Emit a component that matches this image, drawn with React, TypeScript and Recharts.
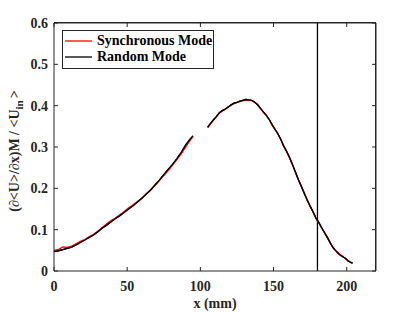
import React from 'react';
import { LineChart, Line, XAxis, YAxis, ReferenceLine, Label } from 'recharts';

const xLeft = [0, 3, 6, 9, 12, 15, 18, 21, 24, 27, 30, 33, 36, 39, 42, 45, 48, 51, 54, 57, 60, 63, 66, 69, 72, 75, 78, 81, 84, 87, 90, 93, 95];
const randLeft = [0.047, 0.049, 0.052, 0.055, 0.058, 0.063, 0.069, 0.075, 0.081, 0.087, 0.095, 0.104, 0.111, 0.119, 0.127, 0.134, 0.142, 0.15, 0.158, 0.167, 0.176, 0.186, 0.196, 0.208, 0.22, 0.233, 0.246, 0.258, 0.272, 0.287, 0.305, 0.319, 0.327];
const syncLeft = [0.05, 0.052, 0.058, 0.057, 0.06, 0.066, 0.072, 0.076, 0.083, 0.089, 0.097, 0.105, 0.114, 0.122, 0.128, 0.136, 0.144, 0.153, 0.16, 0.168, 0.176, 0.187, 0.196, 0.207, 0.219, 0.231, 0.243, 0.256, 0.27, 0.284, 0.3, 0.316, 0.325];

const xRight = [105, 107, 109, 111, 113, 115, 117, 119, 121, 123, 125, 127, 129, 131, 133, 135, 137, 139, 141, 143, 145, 147, 149, 151, 153, 155, 157, 159, 161, 163, 165, 167, 169, 171, 173, 175, 177, 179, 181, 183, 185, 187, 189, 191, 193, 195, 197, 199, 201, 203, 204];
const randRight = [0.348, 0.357, 0.366, 0.374, 0.383, 0.388, 0.392, 0.397, 0.402, 0.406, 0.408, 0.411, 0.413, 0.415, 0.414, 0.413, 0.409, 0.403, 0.394, 0.385, 0.377, 0.367, 0.354, 0.343, 0.332, 0.318, 0.302, 0.289, 0.274, 0.257, 0.239, 0.221, 0.205, 0.188, 0.172, 0.157, 0.143, 0.128, 0.117, 0.104, 0.092, 0.08, 0.066, 0.055, 0.047, 0.04, 0.035, 0.031, 0.024, 0.02, 0.019];
const syncRight = [0.346, 0.356, 0.365, 0.373, 0.382, 0.387, 0.391, 0.396, 0.401, 0.405, 0.408, 0.41, 0.412, 0.413, 0.413, 0.412, 0.408, 0.402, 0.393, 0.384, 0.376, 0.366, 0.353, 0.342, 0.331, 0.317, 0.301, 0.288, 0.273, 0.256, 0.238, 0.22, 0.204, 0.187, 0.171, 0.156, 0.142, 0.127, 0.116, 0.103, 0.091, 0.079, 0.067, 0.055, 0.048, 0.041, 0.036, 0.03, 0.025, 0.021, 0.02];

const xTicks = [0, 50, 100, 150, 200];
const yTicks = [0, 0.1, 0.2, 0.3, 0.4, 0.5, 0.6];
const xDomain: [number, number] = [0, 220];
const yDomain: [number, number] = [0, 0.6];
const markerX = 180;
const seriesInfo = [
  { key: 'sync', name: 'Synchronous Mode', color: '#ff0000' },
  { key: 'random', name: 'Random Mode', color: '#000000' },
];

type Row = { x: number; sync: number | null; random: number | null };
const data: Row[] = [
  ...xLeft.map((x, i) => ({ x, sync: syncLeft[i], random: randLeft[i] })),
  { x: 100, sync: null, random: null },
  ...xRight.map((x, i) => ({ x, sync: syncRight[i], random: randRight[i] })),
];

const FONT = 'Liberation Serif, Times New Roman, serif';
const AXIS = '#262626';
const tickStyle = { fontFamily: FONT, fontWeight: 700, fontSize: 14, fill: AXIS };

const renderYLabel = (props: any) => {
  const vb = props.viewBox || { x: 0, y: 23, width: 0, height: 248 };
  const cy = vb.y + vb.height / 2 + 4;
  const cx = 19;
  return (
    <text
      x={cx}
      y={cy}
      transform={`rotate(-90 ${cx} ${cy})`}
      textAnchor="middle"
      fontFamily={FONT}
      fontWeight={700}
      fontSize={14}
      fill={AXIS}
    >
      <tspan>(∂&lt;U&gt;/∂x)M / &lt;U</tspan>
      <tspan dy={4} fontSize={11}>in</tspan>
      <tspan dy={-4} dx={2}>&gt;</tspan>
    </text>
  );
};

export default function App() {
  return (
    <div style={{ position: 'absolute', left: 0, top: 0, width: 415, height: 312, background: '#fff' }}>
      <LineChart width={415} height={312} data={data} margin={{ top: 22, right: 38, bottom: 11, left: 14 }}>
        <XAxis
          xAxisId="b"
          dataKey="x"
          type="number"
          domain={xDomain}
          ticks={xTicks}
          height={30}
          tickSize={-4}
          tickMargin={14}
          stroke={AXIS}
          tick={tickStyle}
        >
          <Label value="x (mm)" position="bottom" offset={-3} style={{ ...tickStyle }} />
        </XAxis>
        <XAxis
          xAxisId="t"
          dataKey="x"
          type="number"
          orientation="top"
          domain={xDomain}
          ticks={xTicks}
          height={1}
          tickSize={-4}
          tickFormatter={() => ''}
          stroke={AXIS}
        />
        <YAxis
          yAxisId="l"
          type="number"
          domain={yDomain}
          ticks={yTicks}
          width={40}
          tickSize={-4}
          tickMargin={10}
          stroke={AXIS}
          tick={tickStyle}
        >
          <Label content={renderYLabel} />
        </YAxis>
        <YAxis
          yAxisId="r"
          orientation="right"
          type="number"
          domain={yDomain}
          ticks={yTicks}
          width={1}
          tickSize={-4}
          tickFormatter={() => ''}
          stroke={AXIS}
        />
        <ReferenceLine xAxisId="b" yAxisId="l" x={markerX} stroke="#000" strokeWidth={1.3} />
        <Line
          xAxisId="t"
          yAxisId="r"
          dataKey="random"
          stroke="#000000"
          strokeWidth={1.3}
          dot={false}
          isAnimationActive={false}
          legendType="none"
        />
        {seriesInfo.map((s) => (
          <Line
            key={s.key}
            xAxisId="b"
            yAxisId="l"
            dataKey={s.key}
            name={s.name}
            stroke={s.color}
            strokeWidth={1.3}
            dot={false}
            isAnimationActive={false}
            connectNulls={false}
          />
        ))}
      </LineChart>
      <div
        style={{
          position: 'absolute',
          left: 54,
          top: 22,
          width: 321,
          height: 248,
          borderTop: '1px solid #262626',
          borderRight: '1px solid #262626',
          pointerEvents: 'none',
        }}
      />
      <div
        style={{
          position: 'absolute',
          left: 62,
          top: 30,
          border: '1px solid #262626',
          background: '#fff',
          width: 150,
          height: 35,
          fontFamily: FONT,
          fontWeight: 700,
          fontSize: 14,
          color: '#000',
          paddingTop: 2,
        }}
      >
        {seriesInfo.map((it) => (
          <div key={it.name} style={{ display: 'flex', alignItems: 'center', height: 16, lineHeight: '16px' }}>
            <svg width={34} height={16} style={{ display: 'block' }}>
              <line x1={2} x2={29} y1={8} y2={8} stroke={it.color} strokeWidth={1.3} />
            </svg>
            <span>{it.name}</span>
          </div>
        ))}
      </div>
    </div>
  );
}
